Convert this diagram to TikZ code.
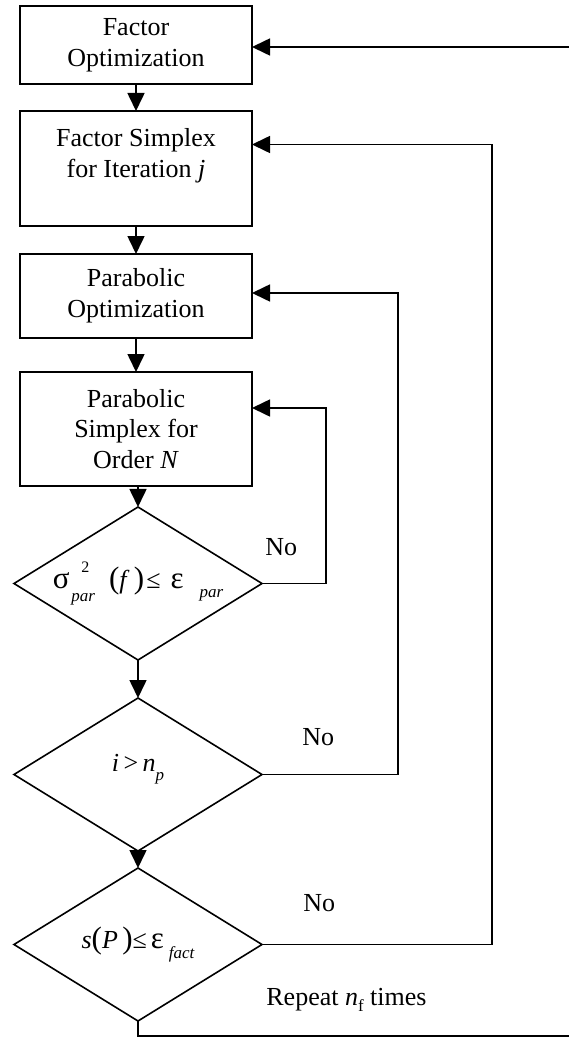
\documentclass[tikz,border=0pt]{standalone}
\usepackage{fontspec}
\setmainfont{Liberation Serif}
\usepackage{tikz}
\usetikzlibrary{positioning,arrows.meta,shapes.geometric}
\tikzset{arista/.style={line width=0.8pt}}
\tikzset{flecha/.style={arista,-{Triangle[length=9pt,width=8.5pt]}}}
\tikzset{caja/.style={draw,arista,rectangle,minimum width=116pt,align=center,inner sep=2pt,outer sep=0pt}}
\tikzset{rombo/.style={draw,arista,diamond,aspect=1.6,minimum width=124pt,minimum height=76.5pt,inner sep=0pt,outer sep=0pt}}
\tikzset{etiqueta/.style={inner sep=0pt}}
\newcommand{\subi}[1]{\raisebox{-0.35em}{\fontsize{8.5}{9}\selectfont\itshape #1}}
\newcommand{\grande}[1]{{\fontsize{15.5}{15.5}\selectfont #1}}

\begin{document}
\begin{tikzpicture}[every node/.style={font=\fontsize{13}{15.3}\selectfont}]
            \useasboundingbox (0,0) rectangle (284pt,-519pt);
            \node[caja, minimum height=39pt] (1) at (68pt,-22.5pt) {Factor\\Optimization};
            \node[caja, minimum height=57.5pt, below=13.5pt of 1] (2) {Factor Simplex\\for Iteration \textit{j}\\~};
            \node[caja, minimum height=42pt,   below=14pt   of 2] (3) {Parabolic\\Optimization};
            \node[caja, minimum height=57pt,   below=17pt   of 3] (4) {Parabolic\\Simplex for\\Order \textit{N}};
            \node[rombo, below=10.5pt of 4, xshift=1pt] (5) {\grande{σ}\hspace{1pt}\rlap{\raisebox{0.62em}{\hspace{5pt}\fontsize{8}{8}\selectfont 2}}\raisebox{-0.5em}{\fontsize{8.5}{9}\selectfont\itshape par}\hspace{7pt}\grande{(}\textit{f}\,\grande{)}\hspace{1pt}≤\hspace{5pt}\grande{ε}\hspace{8pt}\subi{par}};
            \node[rombo, below=19pt   of 5] (6) {\raisebox{1.5pt}[0pt][0pt]{\textit{i}\,>\,\textit{n}\subi{p}}};
            \node[rombo, below=8.5pt  of 6] (7) {\textit{s}\grande{(}\textit{P}\,\grande{)}≤\hspace{2pt}\grande{ε}\hspace{2.5pt}\subi{fact}};

            \node[etiqueta, above right=13.5pt and 1.5pt of 5.east] (no1) {No};
            \node[etiqueta, above right=14pt and 20pt of 6.east] (no2) {No};
            \node[etiqueta, above right=16pt and 20.5pt of 7.east] (no3) {No};
            \node[etiqueta, below right=21.5pt and 2pt of 7.east] (rep) {Repeat \textit{n}\raisebox{-0.25em}{\fontsize{8.5}{9}\selectfont f} times};

            \coordinate (back) at (285pt,-23.5pt);

            \draw[flecha] (1) to (2);
            \draw[flecha] (2) to (3);
            \draw[flecha] (3) to (4);
            \draw[flecha] (4.south -| 5.north) to (5);
            \draw[flecha] (5) to (6);
            \draw[flecha] (6) to (7);
            \draw[flecha] (5.east) -- ++(32pt,0) |- ([yshift=10.5pt]4.east);
            \draw[flecha] (6.east) -- ++(68pt,0) |- ([yshift=1.5pt]3.east);
            \draw[flecha] (7.east) -- ++(115pt,0) |- ([yshift=12pt]2.east);
            \draw[flecha] (7.south) -- ++(0,-7.5pt) -| (back) -- ([yshift=-1pt]1.east);
        \end{tikzpicture}
\end{document}
